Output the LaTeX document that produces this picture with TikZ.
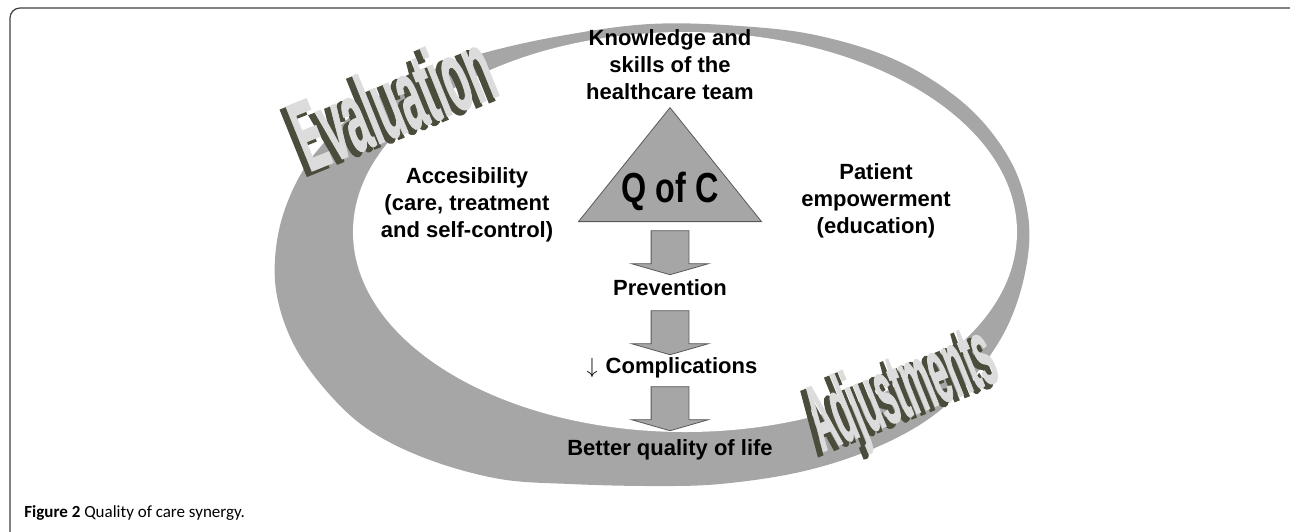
\documentclass[tikz,border=0pt]{standalone}
\usepackage{fontspec}
\setmainfont{Liberation Sans}
\newfontfamily\capfont{Carlito}
\newfontfamily\wordfont[FakeBold=1.5]{Liberation Sans Bold}
\newfontfamily\extrudefont[FakeBold=4]{Liberation Sans Bold}
\usetikzlibrary{positioning,shapes.geometric,shapes.arrows}
\definecolor{RING_GRAY}{RGB}{166,166,166}
\definecolor{EDGE_GRAY}{RGB}{89,89,89}
\definecolor{OLIVE_3D}{RGB}{76,76,60}
\definecolor{FACE_3D}{RGB}{220,220,220}
\tikzstyle{frame}      = [draw=black!75, line width=0.6pt, rounded corners=5pt]
\tikzstyle{txt_block}  = [font=\fontsize{11}{13.5}\selectfont\bfseries, align=center, inner sep=0pt]
\tikzstyle{qoc_text}   = [font=\fontsize{21}{21}\selectfont\bfseries, inner sep=0pt]
\tikzstyle{down_arrow} = [single arrow, draw=EDGE_GRAY, fill=RING_GRAY, line width=0.4pt,
                          shape border rotate=270, inner sep=0pt,
                          minimum height=22pt, minimum width=38pt,
                          single arrow head extend=9.75pt, single arrow tip angle=148]
\tikzstyle{q_triangle} = [isosceles triangle, isosceles triangle stretches, shape border rotate=90,
                          draw=EDGE_GRAY, fill=RING_GRAY, line width=0.4pt, inner sep=0pt,
                          minimum width=91.5pt, minimum height=57pt]
\tikzstyle{word_face}  = [inner sep=0pt, text=FACE_3D]
\tikzstyle{word_side}  = [inner sep=0pt, text=OLIVE_3D]
\tikzstyle{caption}    = [font=\capfont\fontsize{8.5}{10}\selectfont, anchor=west, inner sep=0pt]

\begin{document}
\begin{tikzpicture}[x=0.5pt, y=-0.5pt, node distance = 0pt and 0pt]
  \useasboundingbox (0,0) rectangle (1290,531);
  \draw[frame] (10,8) rectangle (1302,548);

  % ring
  \fill[RING_GRAY] plot[smooth cycle, tension=0.6] coordinates {
    (650,24) (740,26) (820,36) (900,62) (967,106) (1010,160) (1028,215)
    (1026,268) (1008,325) (975,375) (930,418) (870,450) (800,472) (720,484)
    (650,486) (570,484) (500,479) (430,460) (372,432) (330,395) (294,345)
    (276,290) (278,235) (295,185) (322,145) (365,105) (420,75) (480,54) (560,36)};
  \fill[white] (685,232) ellipse [x radius=332, y radius=200];

  % 3D words on the ring
  \node[word_side, rotate=22, font=\extrudefont\fontsize{50}{50}\selectfont]
    (eval_side) at (387,104) {\scalebox{0.41}[1]{Evaluation}};
  \node[word_face, rotate=22, font=\wordfont\fontsize{50}{50}\selectfont]
    (eval) at (392,100) {\scalebox{0.41}[1]{Evaluation}};
  \node[word_side, rotate=22, font=\extrudefont\fontsize{47}{47}\selectfont]
    (adj_side) at (898,397) {\scalebox{0.34}[1]{Adjustments}};
  \node[word_face, rotate=22, font=\wordfont\fontsize{47}{47}\selectfont]
    (adj) at (903,393) {\scalebox{0.34}[1]{Adjustments}};

  % centre column
  \node[q_triangle, anchor=lower side] (tri) at (670,222) {};
  \node[qoc_text] (qoc) at (670,191) {\scalebox{0.77}[1]{Q of C}};
  \node[txt_block] (know) at (670,65) {Knowledge and\\skills of the\\healthcare team};
  \node[txt_block] (access) at (467,205) {Accesibility\\(care, treatment\\and self-control)};
  \node[txt_block] (patient) at (876,201) {Patient\\empowerment\\(education)};

  \node[down_arrow] (arr_1) at (670,250) {\rule{18.5pt}{0pt}};
  \node[txt_block] (prev) at (670,288) {Prevention};
  \node[down_arrow] (arr_2) at (670,330) {\rule{18.5pt}{0pt}};
  \node[txt_block] (comp) at (672,368) {$\downarrow$\hspace{4pt}Complications};
  \node[down_arrow] (arr_3) at (670,406) {\rule{18.5pt}{0pt}};
  \node[txt_block] (better) at (670,450) {Better quality of life};

  \node[caption] (cap) at (24,513) {\textbf{Figure 2} Quality of care synergy.};
\end{tikzpicture}
\end{document}
